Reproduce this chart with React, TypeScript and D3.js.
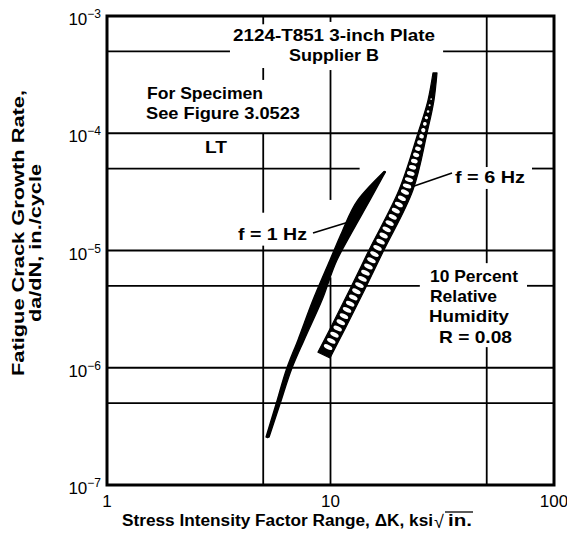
import React from "react";
import * as d3 from "d3";

// ---------- data ----------
const xDomain: [number, number] = [1, 100];
const yDomain: [number, number] = [1e-7, 1e-3];

const xTickValues = [1, 10, 100];
const xTickLabels = ["1", "10", "100"];
const yTickValues = [1e-3, 1e-4, 1e-5, 1e-6, 1e-7];
const yTickExponents = ["−3", "−4", "−5", "−6", "−7"];

const xGridValues = [5, 10, 50];
const yGridValues = [5e-4, 1e-4, 5e-5, 1e-5, 5e-6, 1e-6, 5e-7];

// visible pieces of each gridline (the original breaks them around the notes)
const xGridSegments: [number, number][][] = [
  [[1e-3, 8.5e-4], [3.6e-4, 2.85e-4], [1e-4, 2.1e-5], [1.1e-5, 1e-7]],
  [[1e-3, 8.9e-4], [3.46e-4, 2.7e-5], [5.9e-6, 1e-7]],
  [[1e-3, 5.15e-5], [3.35e-5, 7.8e-6], [1.5e-6, 1e-7]],
];
const yGridSegments: [number, number][][] = [
  [[1, 3.55], [31.9, 100]],
  [[1, 100]],
  [[1, 13.5], [79.7, 100]],
  [[1, 100]],
  [[1, 25.1], [75.7, 100]],
  [[1, 100]],
  [[1, 100]],
];

// f = 1 Hz scatter band (solid)
const oneHzRate = [2.57e-7, 4.9e-7, 1.0e-6, 1.72e-6, 3.78e-6, 8.3e-6, 1.44e-5, 2.7e-5, 4.67e-5];
const oneHzKLow = [5.15, 5.71, 6.39, 7.15, 8.35, 9.95, 11.26, 13.27, 17.3];
const oneHzKHigh = [5.31, 5.94, 6.73, 7.61, 9.16, 10.69, 12.48, 15.02, 17.6];

// f = 6 Hz scatter band (hatched)
const sixHzLowRate = [1.36e-6, 2.23e-6, 4.69e-6, 9.71e-6, 3.28e-5, 1.005e-4, 1.92e-4, 3.27e-4];
const sixHzLowK = [8.79, 10.05, 12.23, 14.72, 20.25, 24.63, 27.31, 28.75];
const sixHzHighRate = [1.21e-6, 2.23e-6, 4.69e-6, 9.71e-6, 3.28e-5, 1.005e-4, 1.92e-4, 3.27e-4];
const sixHzHighK = [9.95, 11.73, 14.27, 17.17, 23.39, 27.03, 29.05, 29.96];

// leader lines [K, rate]
const oneHzLeader: [number, number][] = [[8.35, 1.41e-5], [12.48, 1.785e-5]];
const sixHzLeader: [number, number][] = [[23.0, 3.48e-5], [34.97, 4.58e-5]];

const notes = [
  { text: "2124-T851 3-inch Plate", x: 233, y: 41, w: 202 },
  { text: "Supplier B", x: 289, y: 61, w: 90 },
  { text: "For Specimen", x: 147, y: 99, w: 116 },
  { text: "See Figure 3.0523", x: 146, y: 119, w: 154 },
  { text: "LT", x: 205, y: 153, w: 22 },
  { text: "f = 1 Hz", x: 238, y: 240, w: 69 },
  { text: "f = 6 Hz", x: 455, y: 183, w: 70 },
  { text: "10 Percent", x: 430, y: 282, w: 88 },
  { text: "Relative", x: 430, y: 302, w: 67 },
  { text: "Humidity", x: 429, y: 322, w: 80 },
  { text: "R = 0.08", x: 439, y: 343, w: 73 },
];

const FONT = "'Liberation Sans', Arial, Helvetica, sans-serif";

type P = [number, number];

export default function App() {
  const left = 107, right = 554, top = 16, bottom = 485;
  const x = d3.scaleLog().domain(xDomain).range([left, right]);
  const y = d3.scaleLog().domain(yDomain).range([bottom, top]);

  const pts = (ks: number[], rs: number[]) => ks.map((k, i) => [x(k), y(rs[i])] as P);
  const edge = d3.line<P>().curve(d3.curveMonotoneY);
  const straight = d3.line<P>();

  const interp = (p: P[], yy: number) => {
    for (let i = 0; i < p.length - 1; i++) {
      const [x0, y0] = p[i];
      const [x1, y1] = p[i + 1];
      if (yy <= y0 && yy >= y1) return x0 + ((x1 - x0) * (yy - y0)) / (y1 - y0);
    }
    return yy > p[0][1] ? p[0][0] : p[p.length - 1][0];
  };

  // 1 Hz band
  const oneLow = pts(oneHzKLow, oneHzRate);
  const oneHigh = pts(oneHzKHigh, oneHzRate);
  const onePath =
    (edge(oneLow) as string) + "L" + (edge(oneHigh.slice().reverse()) as string).slice(1) + "Z";
  const oneMid = oneHzRate.map((r, i) => [x(Math.sqrt(oneHzKLow[i] * oneHzKHigh[i])), y(r)] as P);

  // 6 Hz band
  const sixLow = pts(sixHzLowK, sixHzLowRate);
  const sixHigh = pts(sixHzHighK, sixHzHighRate);
  const sixPath =
    (edge(sixLow) as string) + "L" + (edge(sixHigh.slice().reverse()) as string).slice(1) + "Z";

  // oval holes of the hatching, long axis across the band
  const holes: { cx: number; cy: number; rx: number; ry: number; a: number }[] = [];
  const yStart = sixLow[0][1] - 1;
  const yEnd = sixLow[sixLow.length - 1][1] + 6;
  for (let yy = yStart - 4; yy > yEnd; yy -= 6.2) {
    const xl = interp(sixLow, yy);
    const xr = interp(sixHigh, yy);
    const xm0 = (interp(sixLow, yy + 3) + interp(sixHigh, yy + 3)) / 2;
    const xm1 = (interp(sixLow, yy - 3) + interp(sixHigh, yy - 3)) / 2;
    const dx = xm1 - xm0;
    const dy = -6;
    const len = Math.hypot(dx, dy);
    const wPerp = (xr - xl) * (Math.abs(dy) / len);
    const rx = wPerp / 2 - 2.1;
    if (rx < 0.8) continue;
    const theta = (Math.atan2(dy, dx) * 180) / Math.PI;
    holes.push({ cx: (xl + xr) / 2, cy: yy, rx, ry: Math.min(2.1, rx), a: theta + 90 });
  }

  return (
    <svg width={567} height={542} style={{ position: "absolute", left: 0, top: 0, background: "#fff" }}>
      <rect x={0} y={0} width={567} height={542} fill="#fff" />
      {/* gridlines */}
      <g stroke="#000" strokeWidth={1.8}>
        {xGridValues.map((k, i) =>
          xGridSegments[i].map(([r0, r1], j) => (
            <line key={`v${i}-${j}`} x1={x(k)} x2={x(k)} y1={y(r0)} y2={y(r1)} />
          ))
        )}
        {yGridValues.map((r, i) =>
          yGridSegments[i].map(([k0, k1], j) => (
            <line key={`h${i}-${j}`} x1={x(k0)} x2={x(k1)} y1={y(r)} y2={y(r)} />
          ))
        )}
      </g>

      {/* f = 1 Hz band (solid) */}
      <path d={onePath} fill="#000" stroke="#000" strokeWidth={1.4} strokeLinejoin="round" />
      <path d={edge(oneMid) as string} fill="none" stroke="#000" strokeWidth={2.6} strokeLinecap="round" />

      {/* f = 6 Hz hatched band */}
      <path d={sixPath} fill="#000" stroke="#000" strokeWidth={1.2} strokeLinejoin="round" />
      <g fill="#fff">
        {holes.map((h, i) => (
          <ellipse
            key={i}
            cx={0}
            cy={0}
            rx={h.rx}
            ry={h.ry}
            transform={`translate(${h.cx} ${h.cy}) rotate(${h.a})`}
          />
        ))}
      </g>

      {/* leaders */}
      <g stroke="#000" strokeWidth={1.6} fill="none">
        <path d={straight(oneHzLeader.map(([k, r]) => [x(k), y(r)] as P)) as string} />
        <path d={straight(sixHzLeader.map(([k, r]) => [x(k), y(r)] as P)) as string} />
      </g>

      {/* notes */}
      <g fontFamily={FONT} fontWeight="bold" fontSize={17} fill="#000">
        {notes.map((n, i) => (
          <text key={i} x={n.x} y={n.y} textLength={n.w} lengthAdjust="spacingAndGlyphs">
            {n.text}
          </text>
        ))}
      </g>

      {/* frame */}
      <rect x={left} y={top} width={right - left} height={bottom - top} fill="none" stroke="#000" strokeWidth={3} />

      {/* tick labels */}
      <g fontFamily={FONT} fill="#000">
        {yTickValues.map((v, i) => (
          <text key={i} x={101} y={y(v) + 9} textAnchor="end" fontSize={17}>
            10
            <tspan fontSize={12} dy={-7}>
              {yTickExponents[i]}
            </tspan>
          </text>
        ))}
        {xTickValues.map((v, i) => (
          <text key={i} x={x(v)} y={507} textAnchor="middle" fontSize={17}>
            {xTickLabels[i]}
          </text>
        ))}
      </g>

      {/* axis titles */}
      <g fontFamily={FONT} fontWeight="bold" fill="#000">
        <text x={122} y={526} fontSize={16} textLength={311} lengthAdjust="spacingAndGlyphs">
          Stress Intensity Factor Range,  ΔK, ksi
        </text>
        <text x={434} y={528} fontSize={18} fontWeight="normal">
          √
        </text>
        <text x={448} y={526} fontSize={16} textLength={24} lengthAdjust="spacingAndGlyphs">
          in.
        </text>
        <line x1={445} x2={473} y1={512} y2={512} stroke="#000" strokeWidth={1.3} />
        <text
          transform="translate(24,233) rotate(-90)"
          textAnchor="middle"
          fontSize={16}
          textLength={286}
          lengthAdjust="spacingAndGlyphs"
        >
          Fatigue Crack Growth Rate,
        </text>
        <text
          transform="translate(41,243) rotate(-90)"
          textAnchor="middle"
          fontSize={16}
          textLength={158}
          lengthAdjust="spacingAndGlyphs"
        >
          da/dN, in./cycle
        </text>
      </g>
    </svg>
  );
}
